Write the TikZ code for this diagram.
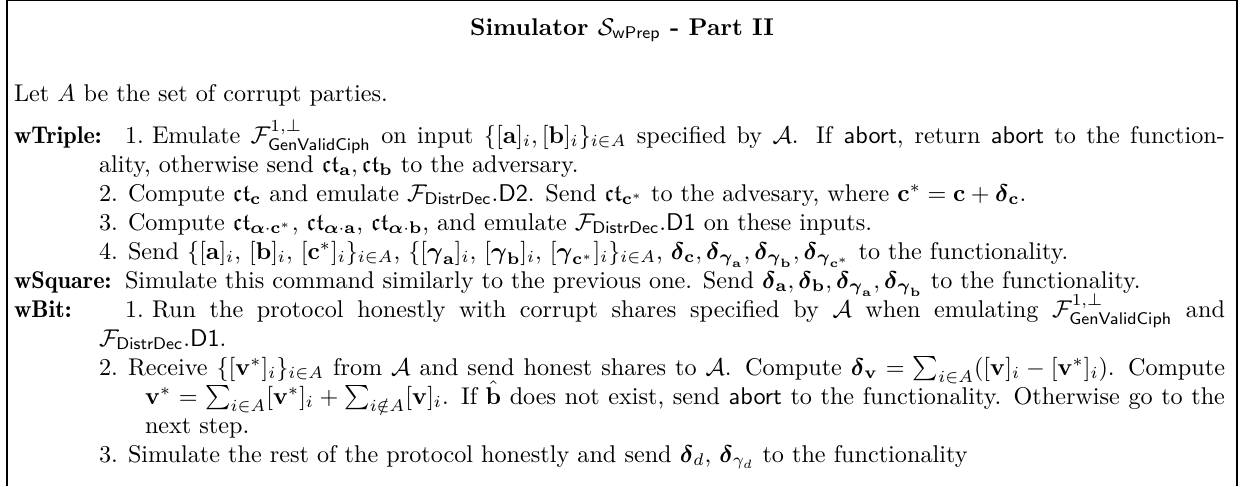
\documentclass[tikz,border=0pt]{standalone}
\usepackage{amsmath,amssymb}
\newlength{\pxu}\setlength{\pxu}{0.41322pt}
\newcommand{\ctx}{\mathfrak{ct}}
\newcommand{\bdl}{\boldsymbol{\delta}}
\newcommand{\bgm}{\boldsymbol{\gamma}}
\newcommand{\bal}{\boldsymbol{\alpha}}
\newcommand{\Fsf}[1]{\mathcal{F}_{\mathsf{#1}}}
\newcommand{\lbl}[1]{{\fontseries{b}\selectfont #1}}
\begin{document}
\begin{tikzpicture}[x=\pxu,y=-\pxu,
  txt/.style={inner sep=0pt,outer sep=0pt,anchor=base west},
  frame/.style={line width=0.6pt}]
\useasboundingbox (0,0) rectangle (1243,486);
\coordinate (bl) at (7,486);
\coordinate (tl) at (7,0.5);
\coordinate (tr) at (1237,0.5);
\coordinate (br) at (1237,486);
\draw[frame] (bl) -- (tl) -- (tr) -- (br);
\node[txt,anchor=base] (title) at (622,35) {\textbf{Simulator $\mathcal{S}_{\mathsf{wPrep}}$ - Part II}};
\node[txt] (let) at (14,101) {Let $A$ be the set of corrupt parties.};
% wTriple
\node[txt] (wt) at (14,143) {\lbl{wTriple:}};
\node[txt] (wt1n) at (125,143) {1.};
\node[txt] (wt1) at (152,143) {\makebox[1073\pxu][s]{Emulate $\mathcal{F}^{1,\perp}_{\mathsf{GenValidCiph}}$ on input $\{[\mathbf{a}]_i,[\mathbf{b}]_i\}_{i\in A}$ specified by $\mathcal{A}$. If \textsf{abort}, return \textsf{abort} to the function-}};
\node[txt] (wt1b) at (99,172) {ality, otherwise send $\ctx_{\mathbf{a}},\ctx_{\mathbf{b}}$ to the adversary.};
\node[txt] (wt2n) at (99,201) {2.};
\node[txt] (wt2) at (128,201) {Compute $\ctx_{\mathbf{c}}$ and emulate $\Fsf{DistrDec}.\mathsf{D2}$. Send $\ctx_{\mathbf{c}^*}$ to the advesary, where $\mathbf{c}^*=\mathbf{c}+\bdl_{\mathbf{c}}$.};
\node[txt] (wt3n) at (99,230) {3.};
\node[txt] (wt3) at (128,230) {Compute $\ctx_{\bal\cdot\mathbf{c}^*}$, $\ctx_{\bal\cdot\mathbf{a}}$, $\ctx_{\bal\cdot\mathbf{b}}$, and emulate $\Fsf{DistrDec}.\mathsf{D1}$ on these inputs.};
\node[txt] (wt4n) at (99,259) {4.};
\node[txt] (wt4) at (128,259) {Send $\{[\mathbf{a}]_i,\,[\mathbf{b}]_i,\,[\mathbf{c}^*]_i\}_{i\in A}$, $\{[\bgm_{\mathbf{a}}]_i,\,[\bgm_{\mathbf{b}}]_i,\,[\bgm_{\mathbf{c}^*}]_i\}_{i\in A}$, $\bdl_{\mathbf{c}},\bdl_{\bgm_{\mathbf{a}}},\bdl_{\bgm_{\mathbf{b}}},\bdl_{\bgm_{\mathbf{c}^*}}$ to the functionality.};
% wSquare
\node[txt] (ws) at (14,288) {\lbl{wSquare:}};
\node[txt] (ws1) at (125,288) {Simulate this command similarly to the previous one. Send $\bdl_{\mathbf{a}},\bdl_{\mathbf{b}},\bdl_{\bgm_{\mathbf{a}}},\bdl_{\bgm_{\mathbf{b}}}$ to the functionality.};
% wBit
\node[txt] (wb) at (14,317) {\lbl{wBit:}};
\node[txt] (wb1n) at (125,317) {1.};
\node[txt] (wb1) at (152,317) {\makebox[1073\pxu][s]{Run the protocol honestly with corrupt shares specified by $\mathcal{A}$ when emulating $\mathcal{F}^{1,\perp}_{\mathsf{GenValidCiph}}$ and}};
\node[txt] (wb1b) at (99,346) {$\Fsf{DistrDec}.\mathsf{D1}$.};
\node[txt] (wb2n) at (99,375) {2.};
\node[txt] (wb2) at (128,375) {\makebox[1097\pxu][s]{Receive $\{[\mathbf{v}^*]_i\}_{i\in A}$ from $\mathcal{A}$ and send honest shares to $\mathcal{A}$. Compute $\bdl_{\mathbf{v}}=\sum_{i\in A}([\mathbf{v}]_i-[\mathbf{v}^*]_i)$. Compute}};
\node[txt] (wb2b) at (145,404) {\makebox[1080\pxu][s]{$\mathbf{v}^*=\sum_{i\in A}[\mathbf{v}^*]_i+\sum_{i\notin A}[\mathbf{v}]_i$. If $\hat{\mathbf{b}}$ does not exist, send \textsf{abort} to the functionality. Otherwise go to the}};
\node[txt] (wb2c) at (145,433) {next step.};
\node[txt] (wb3n) at (99,462) {3.};
\node[txt] (wb3) at (128,462) {Simulate the rest of the protocol honestly and send $\bdl_d$, $\bdl_{\gamma_d}$ to the functionality};
\end{tikzpicture}
\end{document}
